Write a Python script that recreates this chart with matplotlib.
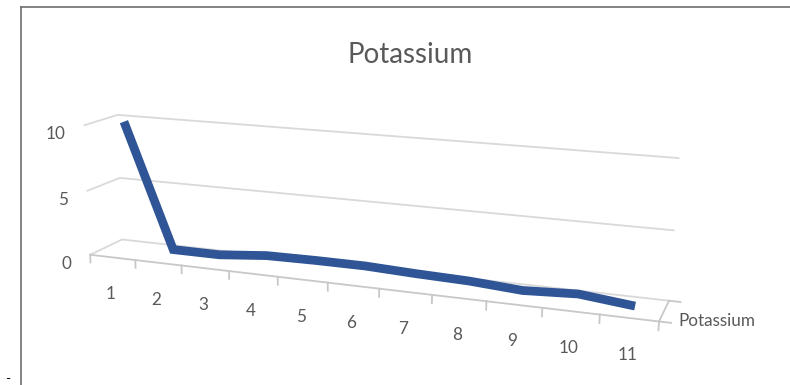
import matplotlib
matplotlib.use('Agg')
import matplotlib.pyplot as plt
from matplotlib.transforms import offset_copy
from matplotlib.lines import Line2D
import numpy as np

# ---------------- data ----------------
categories = ['1', '2', '3', '4', '5', '6', '7', '8', '9', '10', '11']
potassium = [10, 0.4, 0.4, 0.75, 0.8, 0.8, 0.65, 0.55, 0.3, 0.5, 0.1]
series_name = 'Potassium'
title = 'Potassium'
z_ticks = [0, 5, 10]
z_tick_labels = ['0', '5', '10']

# ---------------- figure ----------------
W, H = 790, 385
plt.rcParams['font.family'] = ['Lato', 'DejaVu Sans']
fig = plt.figure(figsize=(W / 100, H / 100), dpi=100)
fig.patch.set_facecolor('white')

side = 332
k = 800 / side
cx, cy = 361, 214
ax = fig.add_axes([(cx - side / 2) / W, (H - cy - side / 2) / H, side / W, side / H],
                  projection='3d')
ax.set_proj_type('persp', focal_length=0.31 * k)
ax.view_init(elev=14, azim=-70, roll=-0.5)
ax.set_box_aspect((1.71, 0.19, 0.40), zoom=0.75 * k)
ax.set_xticks([])
ax.set_yticks([])
ax.set_zticks([])
ax.set_axis_off()
ax.patch.set_visible(False)
ax.computed_zorder = False

n = len(categories)
xs = np.arange(1, n + 1)
x0, x1 = 0.5, n + 0.5
ax.set_xlim(x0, x1)
ax.set_ylim(0, 1)
ax.set_zlim(0, 10)

grid_c = '#d9d9d9'
axis_c = '#c8c8c8'
text_c = '#595959'

# gridlines on side and back walls
for z in z_ticks:
    ax.plot([x0, x0, x1], [0, 1, 1], [z, z, z], color=grid_c, lw=1.3, zorder=1,
            solid_joinstyle='miter', clip_on=False)

# category axis (front edge of floor) and tick marks
ax.plot([x0, x1], [0, 0], [0, 0], color=axis_c, lw=1.3, zorder=2, clip_on=False)
for b in np.arange(x0, x1 + 0.01, 1.0):
    ax.plot([b, b], [0, 0], [0, -0.6], color=axis_c, lw=1.3, zorder=2, clip_on=False)

# series (depth) axis on the right
ax.plot([x1, x1], [0, 1], [0, 0], color=axis_c, lw=1.3, zorder=2, clip_on=False)
for yy in (0, 1):
    ax.plot([x1, x1 + 0.2], [yy, yy], [0, 0], color=axis_c, lw=1.3, zorder=2,
            clip_on=False)

# data line
ax.plot(xs, np.full(n, 0.5), potassium, color='#2F5597', lw=6.3, zorder=5,
        solid_joinstyle='miter', solid_capstyle='butt', clip_on=False)

# ---- labels: project 3D anchor points with the axes' own projection matrix ----
M = ax.get_proj()


def to2d(x, y, z):
    v = M @ np.array([x, y, z, 1.0])
    return v[0] / v[3], v[1] / v[3]


# category labels
t_cat = offset_copy(ax.transData, fig=fig, x=-2, y=-37, units='dots')
for x, lab in zip(xs, categories):
    px, py = to2d(x, 0, 0)
    ax.text2D(px, py, lab, transform=t_cat, ha='center', va='center',
              fontsize=12.3, color=text_c)

# value labels
t_val = offset_copy(ax.transData, fig=fig, x=-19, y=-9, units='dots')
for z, lab in zip(z_ticks, z_tick_labels):
    px, py = to2d(x0, 0, z)
    ax.text2D(px, py, lab, transform=t_val, ha='right', va='center',
              fontsize=12.3, color=text_c)

# series label
t_ser = offset_copy(ax.transData, fig=fig, x=14, y=-10, units='dots')
px, py = to2d(x1, 0.5, 0)
ax.text2D(px, py, series_name, transform=t_ser, ha='left', va='center',
          fontsize=12.3, color=text_c)

# title
fig.text(410 / W, 1 - 55 / H, title, ha='center', va='center', fontsize=20,
         color=text_c)

# outer frame
fig.add_artist(Line2D([20.5 / W, 20.5 / W], [0, 1 - 6.5 / H], transform=fig.transFigure,
                      color='#6e6e6e', lw=1.2))
fig.add_artist(Line2D([20.5 / W, 1], [1 - 6.5 / H, 1 - 6.5 / H], transform=fig.transFigure,
                      color='#6e6e6e', lw=1.2))
fig.text(8 / W, 1 - 379 / H, '-', ha='center', va='center', fontsize=10, color='black')

fig.savefig('out.png', dpi=100, facecolor='white')
